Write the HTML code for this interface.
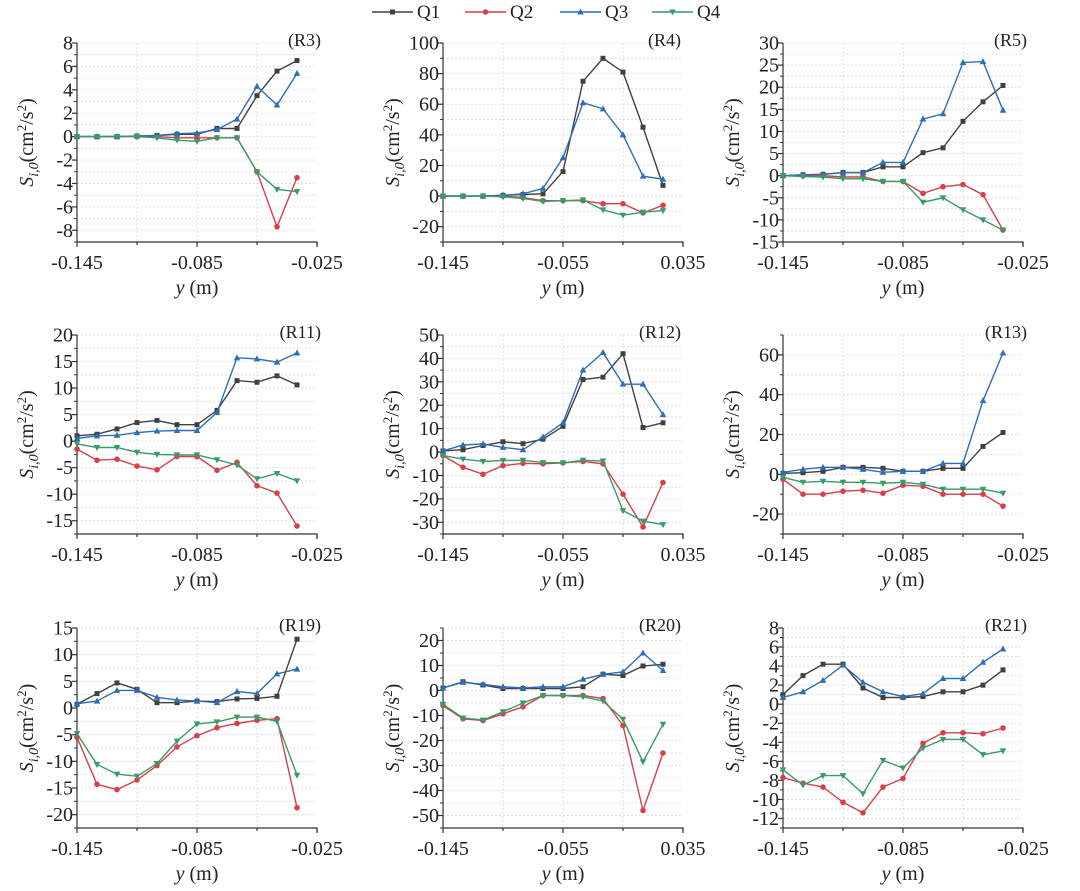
<!DOCTYPE html>
<html><head><meta charset="utf-8"><style>
body{margin:0;background:#fff;}
svg{display:block;}
svg text{font-family:"Liberation Serif","DejaVu Serif","Times New Roman",serif;}
</style></head><body>
<svg id="chart" width="1080" height="891" viewBox="0 0 1080 891" xmlns="http://www.w3.org/2000/svg" font-family="Liberation Serif, DejaVu Serif, serif">
<g id="legend"></g>
</svg>
<script>
const seriesNames = ["Q1","Q2","Q3","Q4"];
const panelLabels = ["(R3)","(R4)","(R5)","(R11)","(R12)","(R13)","(R19)","(R20)","(R21)"];
const xStartA = -0.145;
const xStepA = 0.01, xStepB = 0.015;
const xTicksA = [-0.145,-0.085,-0.025];
const xTicksB = [-0.145,-0.055,0.035];
const yRanges = [[-9,8],[-30,100],[-15,30],[-17.5,20],[-35,50],[-30,70],[-22.5,15],[-55,25],[-13,8]];
const yTickSteps = [2,20,5,5,10,20,5,10,2];
const yTickFrom = [-8,-20,-15,-15,-30,-20,-20,-50,-12];

const r3Q1=[0,0,0,0.05,0.1,0.2,0.2,0.7,0.7,3.5,5.6,6.5];
const r3Q2=[0,0,0,0,0,-0.1,-0.1,-0.1,-0.1,-3,-7.7,-3.5];
const r3Q3=[0,0,0,0.05,0.1,0.25,0.3,0.6,1.5,4.3,2.7,5.4];
const r3Q4=[0,0,0,0,-0.1,-0.3,-0.4,-0.1,-0.1,-3,-4.5,-4.7];
const r4Q1=[0,0,0,0.5,1,1.5,16,75,90,81,45,7];
const r4Q2=[0,0,0,0,-1,-3,-3,-3,-5,-5,-11,-6];
const r4Q3=[0,0,0,0.5,1.5,5,25,61,57,40,13,11];
const r4Q4=[0,0,0,-0.5,-1.5,-3.5,-3,-2.5,-9,-12.5,-10.5,-9.5];
const r5Q1=[0,0.2,0.3,0.7,0.7,2,2,5.2,6.3,12.3,16.7,20.4];
const r5Q2=[0,0,0,-0.3,-0.3,-1.3,-1.3,-4,-2.5,-2,-4.3,-12.3];
const r5Q3=[0,0.2,0.3,0.7,0.7,3,3,12.8,14,25.6,25.8,14.8];
const r5Q4=[0,-0.2,-0.3,-0.7,-0.7,-1.3,-1.3,-6,-5,-7.7,-10,-12.3];
const r11Q1=[1,1.3,2.3,3.5,3.9,3.1,3.1,5.8,11.4,11.1,12.3,10.6];
const r11Q2=[-1.5,-3.6,-3.4,-4.7,-5.4,-2.9,-2.9,-5.5,-4,-8.4,-9.8,-16];
const r11Q3=[0.5,1,1.1,1.6,1.9,2,2,5.4,15.7,15.5,14.9,16.6];
const r11Q4=[-0.5,-1.2,-1.2,-2.1,-2.5,-2.6,-2.6,-3.5,-4.5,-7.1,-6.1,-7.5];
const r12Q1=[0.5,1,2.8,4.4,3.6,5.5,11,31,32,42,10.5,12.5];
const r12Q2=[-1.5,-6.5,-9.5,-5.8,-4.8,-5,-4.6,-4,-5,-18,-32,-13];
const r12Q3=[0.5,3,3.5,2,1,6.5,12.5,35,42.5,29,29,16];
const r12Q4=[-1.5,-3,-4,-3.6,-3.5,-4.5,-4.6,-3.5,-3.8,-25,-29.5,-31];
const r13Q1=[0.5,0.8,1.5,3.5,3.5,3,1.5,1.5,3,3,14,21];
const r13Q2=[-2.5,-10,-10,-8.5,-8,-9.5,-5.5,-6,-10,-10,-10,-16];
const r13Q3=[1,2.5,3.5,3.5,2.5,1,1.5,1.5,5.5,5.5,37,61];
const r13Q4=[-1.5,-4,-3.5,-4,-4,-4.5,-4,-5,-7.5,-7.5,-7.5,-9.5];
const r19Q1=[0.7,2.7,4.7,3.5,1,1,1.3,1.2,1.7,1.8,2.2,12.9];
const r19Q2=[-5.5,-14.3,-15.3,-13.5,-10.8,-7.3,-5.2,-3.7,-2.9,-2.3,-2,-18.7];
const r19Q3=[0.8,1.3,3.3,3.3,2,1.5,1.3,1,3.1,2.7,6.4,7.3];
const r19Q4=[-4.8,-10.6,-12.4,-12.8,-10.4,-6.2,-3,-2.6,-1.7,-1.7,-2.5,-12.6];
const r20Q1=[1,3.5,2.2,0.8,0.8,0.8,0.8,1.5,6.5,6,9.8,10.5];
const r20Q2=[-6,-11.3,-12,-9.3,-6.5,-2,-2,-2,-3.2,-14,-48,-25];
const r20Q3=[1,3.3,2.5,1.5,1,1.5,1.5,4.5,6.5,7.5,15,8];
const r20Q4=[-5.5,-11,-11.8,-8.5,-5,-2,-2,-2.5,-4.2,-11.5,-28.5,-13.5];
const r21Q1=[1,3,4.2,4.2,1.7,0.7,0.7,0.8,1.3,1.3,2,3.6];
const r21Q2=[-7.7,-8.3,-8.7,-10.3,-11.4,-8.7,-7.8,-4.1,-3,-3,-3.1,-2.5];
const r21Q3=[0.7,1.3,2.5,4.1,2.3,1.3,0.8,1.1,2.7,2.7,4.4,5.8];
const r21Q4=[-6.9,-8.5,-7.5,-7.5,-9.4,-5.9,-6.7,-4.6,-3.7,-3.7,-5.3,-4.9];

const panelData = [
 [r3Q1,r3Q2,r3Q3,r3Q4],[r4Q1,r4Q2,r4Q3,r4Q4],[r5Q1,r5Q2,r5Q3,r5Q4],
 [r11Q1,r11Q2,r11Q3,r11Q4],[r12Q1,r12Q2,r12Q3,r12Q4],[r13Q1,r13Q2,r13Q3,r13Q4],
 [r19Q1,r19Q2,r19Q3,r19Q4],[r20Q1,r20Q2,r20Q3,r20Q4],[r21Q1,r21Q2,r21Q3,r21Q4]];

const NS="http://www.w3.org/2000/svg";
const svg=document.getElementById('chart');
const colors=["#404040","#d6404a","#2f6db5","#3a9a68"];
const colLeft=[77,443,783], colW=240;
const rowTop=[43,335,628], rowH=[199,199,200];

function mk(tag,attrs,parent){const e=document.createElementNS(NS,tag);for(const k in attrs)e.setAttribute(k,attrs[k]);parent.appendChild(e);return e;}
function marker(g,k,x,y){
  const c=colors[k];let m;
  if(k===0) m=mk('rect',{x:x-2.5,y:y-2.5,width:5,height:5,fill:c},g);
  else if(k===1) m=mk('circle',{cx:x,cy:y,r:2.8,fill:c},g);
  else if(k===2) m=mk('polygon',{points:`${x},${y-3.5} ${x-3.3},${y+2.5} ${x+3.3},${y+2.5}`,fill:c},g);
  else m=mk('polygon',{points:`${x},${y+3.5} ${x-3.3},${y-2.5} ${x+3.3},${y-2.5}`,fill:c},g);
  return m;
}

for(let p=0;p<9;p++){
  const col=p%3,row=Math.floor(p/3);
  const L=colLeft[col],T=rowTop[row],H=rowH[row],B=T+H,R=L+colW;
  const wide=(col===1);
  const xt=wide?xTicksB:xTicksA, xs=wide?xStepB:xStepA;
  const xmin=xt[0],xmax=xt[2];
  const [ymin,ymax]=yRanges[p];
  const X=v=>L+(v-xmin)/(xmax-xmin)*colW;
  const Y=v=>B-(v-ymin)/(ymax-ymin)*H;
  const g=mk('g',{},svg);
  
  
  const st=yTickSteps[p];
  for(let v=yTickFrom[p]-st;v<=ymax+1e-9;v+=st/2){
    if(v<=ymin+1e-9)continue;
    const gl=mk('line',{x1:L,x2:R,y1:Y(v),y2:Y(v),stroke:"#d8d8d8","stroke-width":0.8,"stroke-dasharray":"2,2"},g);
    
    
  }
  for(let i=1;i<4;i++){
    const xv=xmin+(xmax-xmin)*i/4;
    const gl=mk('line',{x1:X(xv),x2:X(xv),y1:T,y2:B,stroke:"#d8d8d8","stroke-width":0.8,"stroke-dasharray":"2,2"},g);
    
    
  }
  const ax=mk('path',{d:`M${L},${T} L${L},${B} L${R},${B} L${R},${B+4}`,stroke:"#333",fill:"none","stroke-width":1.2},g);
  
  
  for(let v=yTickFrom[p];v<=ymax+1e-9;v+=st){
    mk('line',{x1:L-5,x2:L,y1:Y(v),y2:Y(v),stroke:"#333","stroke-width":1.2},g);
    const t=mk('text',{x:L-4,y:Y(v)+6.5,"text-anchor":"end","font-size":20,fill:"#222"},g);
    t.textContent=String(v);
    
    
  }
  for(let v=yTickFrom[p]-st/2;v<=ymax+1e-9;v+=st){
    if(v<ymin)continue;
    mk('line',{x1:L-3,x2:L,y1:Y(v),y2:Y(v),stroke:"#333","stroke-width":1},g);
  }
  for(let i=0;i<=4;i++){
    const xv=xmin+(xmax-xmin)*i/4;
    mk('line',{x1:X(xv),x2:X(xv),y1:B,y2:B+(i%2?3:5),stroke:"#333","stroke-width":1.2},g);
  }
  xt.forEach(v=>{
    const t=mk('text',{x:X(v),y:B+27,"text-anchor":"middle","font-size":20,fill:"#222"},g);
    t.textContent=v.toFixed(3);
    
    
  });
  const xtl=mk('text',{x:L+colW/2,y:B+52,"text-anchor":"middle","font-size":20,fill:"#222"},g);
  xtl.innerHTML='<tspan font-style="italic">y</tspan> (m)';
  
  
  const yx=L-44,yy=T+H/2;
  const ytl=mk('text',{x:yx,y:yy,"text-anchor":"middle","font-size":20,fill:"#222",transform:`rotate(-90 ${yx} ${yy})`},g);
  ytl.innerHTML='<tspan font-style="italic">S</tspan><tspan font-style="italic" font-size="14" dy="5">i,0</tspan><tspan dy="-5">(cm</tspan><tspan font-size="13" dy="-7">2</tspan><tspan dy="7">/s</tspan><tspan font-size="13" dy="-7">2</tspan><tspan dy="7">)</tspan>';
  
  
  const pl=mk('text',{x:R-(wide?2:-4),y:T+3,"text-anchor":"end","font-size":18,fill:"#222"},g);
  pl.textContent=panelLabels[p];
  
  
  panelData[p].forEach((arr,k)=>{
    const sg=mk('g',{},g);
    
    
    const pts=arr.map((v,i)=>`${X(xStartA+i*xs).toFixed(1)},${Y(v).toFixed(1)}`).join(' ');
    const ln=mk('polyline',{points:pts,fill:"none",stroke:colors[k],"stroke-width":1.4},sg);
    
    
    arr.forEach((v,i)=>{
      const m=marker(sg,k,X(xStartA+i*xs),Y(v));
      
      
    });
  });
}
const lg=document.getElementById('legend');
const legX=[372,465,560,652];
seriesNames.forEach((n,k)=>{
  const e=mk('g',{},lg);
  
  
  mk('line',{x1:legX[k],x2:legX[k]+41,y1:12,y2:12,stroke:colors[k],"stroke-width":1.4},e);
  marker(e,k,legX[k]+20.5,12);
  const t=mk('text',{x:legX[k]+45,y:18,"font-size":19,fill:"#222"},e);
  t.textContent=n;
});
</script>
</body></html>
